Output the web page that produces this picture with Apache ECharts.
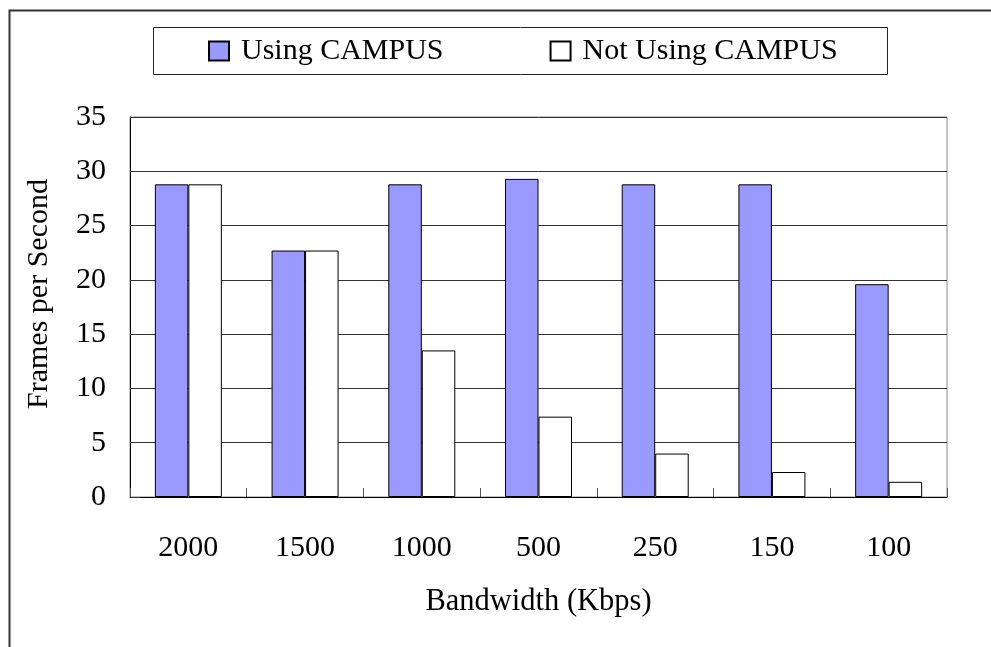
<!DOCTYPE html>
<html>
<head>
<meta charset="utf-8">
<script src="https://cdn.jsdelivr.net/npm/echarts@6/dist/echarts.min.js"></script>
<style>html,body{margin:0;padding:0;background:#fff;}#c{width:991px;height:647px;}</style>
</head>
<body>
<div id="c"></div>
<script>
const categories = ['2000', '1500', '1000', '500', '250', '150', '100'];
const usingCampus = [28.8, 22.7, 28.8, 29.3, 28.8, 28.8, 19.6];
const notUsingCampus = [28.8, 22.7, 13.5, 7.4, 4.0, 2.3, 1.4];
const seriesNames = ['Using CAMPUS', 'Not Using CAMPUS'];
const yTicks = { min: 0, max: 35, interval: 5 };

const FONT = '"Liberation Serif", "Times New Roman", serif';
const chart = echarts.init(document.getElementById('c'), null, { renderer: 'canvas' });
chart.setOption({
  backgroundColor: '#fff',
  animation: false,
  textStyle: { fontFamily: FONT, color: '#000' },
  graphic: [
    { type: 'rect', shape: { x: 9.5, y: 10.5, width: 1000, height: 700 }, style: { fill: 'none', stroke: '#333', lineWidth: 2 }, z: -10, silent: true },
    { type: 'rect', shape: { x: 153.5, y: 27.5, width: 734, height: 47 }, style: { fill: '#fff', stroke: '#222', lineWidth: 1 }, z: -5, silent: true }
  ],
  legend: {
    left: 208, top: 36, padding: 0,
    itemWidth: 20, itemHeight: 19, itemGap: 106,
    icon: 'rect',
    textStyle: { fontFamily: FONT, fontSize: 30, color: '#000', padding: [0, 0, 0, 7] },
    data: seriesNames
  },
  grid: { left: 130, right: 44, top: 117, bottom: 150, show: true, borderColor: '#888', borderWidth: 1, backgroundColor: 'transparent' },
  xAxis: {
    type: 'category', data: categories,
    name: 'Bandwidth (Kbps)', nameLocation: 'middle', nameGap: 89,
    nameTextStyle: { fontFamily: FONT, fontSize: 30.5, color: '#000' },
    axisLine: { lineStyle: { color: '#000', width: 1 } },
    axisTick: { show: true, inside: true, length: 9, lineStyle: { color: '#555' } },
    axisLabel: { fontFamily: FONT, fontSize: 30, color: '#000', margin: 36 },
    splitLine: { show: false }
  },
  yAxis: {
    type: 'value', min: yTicks.min, max: yTicks.max, interval: yTicks.interval,
    name: 'Frames per Second', nameLocation: 'middle', nameGap: 76,
    nameTextStyle: { fontFamily: FONT, fontSize: 30, color: '#000', padding: [0, 0, 0, 26] },
    axisLine: { show: true, lineStyle: { color: '#000', width: 1 } },
    axisTick: { show: true, inside: true, length: 10, lineStyle: { color: '#333' } },
    axisLabel: { fontFamily: FONT, fontSize: 30, color: '#000', margin: 24 },
    splitLine: { show: true, lineStyle: { color: '#333', width: 1 } }
  },
  series: [
    { name: seriesNames[0], type: 'bar', data: usingCampus, barWidth: 33.5, barGap: '0%',
      itemStyle: { color: '#9999FF', borderColor: '#000', borderWidth: 1 } },
    { name: seriesNames[1], type: 'bar', data: notUsingCampus, barWidth: 33.5, barGap: '0%',
      itemStyle: { color: '#FFFFFF', borderColor: '#000', borderWidth: 1 } }
  ]
});
</script>
</body>
</html>
